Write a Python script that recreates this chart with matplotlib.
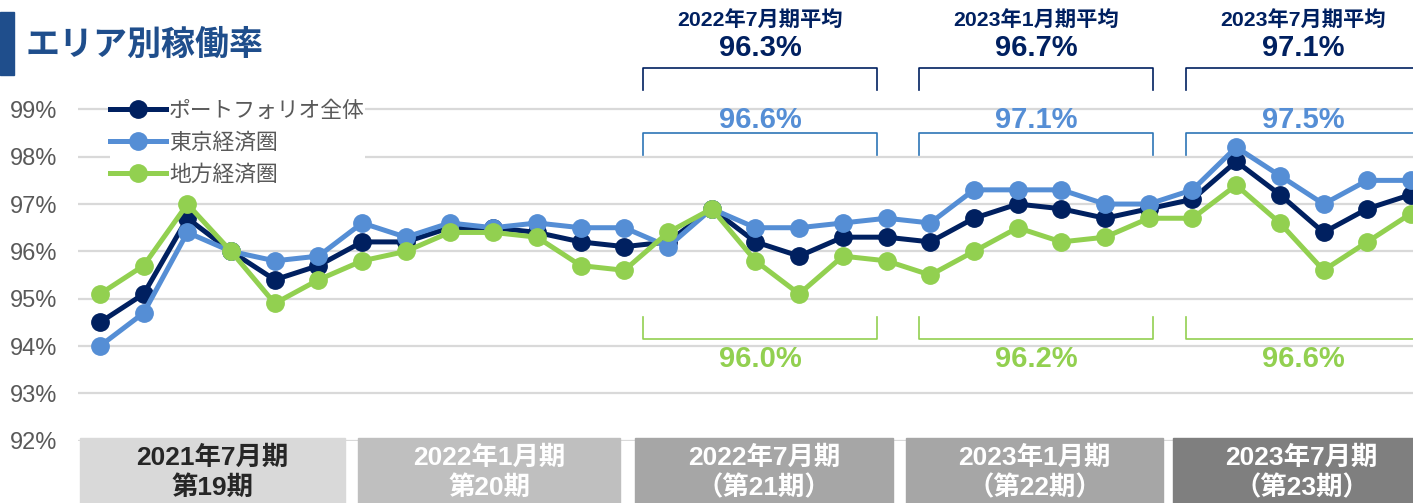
import matplotlib
matplotlib.use("Agg")
import matplotlib.pyplot as plt
from matplotlib.lines import Line2D
from matplotlib.patches import Rectangle

plt.rcParams['font.family'] = ['Liberation Sans', 'Noto Sans CJK JP', 'DejaVu Sans']

# ---------------- data ----------------
months = [f"{y}-{m:02d}" for y, m in
          [(2021, m) for m in range(1, 13)] + [(2022, m) for m in range(1, 13)] + [(2023, m) for m in range(1, 8)]]
series_names = ['ポートフォリオ全体', '東京経済圏', '地方経済圏']
total = [94.5, 95.1, 96.7, 96.0, 95.4, 95.7, 96.2, 96.2, 96.5, 96.5, 96.4, 96.2, 96.1, 96.2, 96.9, 96.2,
         95.9, 96.3, 96.3, 96.2, 96.7, 97.0, 96.9, 96.7, 96.9, 97.1, 97.9, 97.2, 96.4, 96.9, 97.2]
tokyo = [94.0, 94.7, 96.4, 96.0, 95.8, 95.9, 96.6, 96.3, 96.6, 96.5, 96.6, 96.5, 96.5, 96.1, 96.9, 96.5,
         96.5, 96.6, 96.7, 96.6, 97.3, 97.3, 97.3, 97.0, 97.0, 97.3, 98.2, 97.6, 97.0, 97.5, 97.5]
local = [95.1, 95.7, 97.0, 96.0, 94.9, 95.4, 95.8, 96.0, 96.4, 96.4, 96.3, 95.7, 95.6, 96.4, 96.9, 95.8,
         95.1, 95.9, 95.8, 95.5, 96.0, 96.5, 96.2, 96.3, 96.7, 96.7, 97.4, 96.6, 95.6, 96.2, 96.8]
yticks = [92, 93, 94, 95, 96, 97, 98, 99]

avg_titles = ['2022年7月期平均', '2023年1月期平均', '2023年7月期平均']
avg_total = [96.3, 96.7, 97.1]
avg_tokyo = [96.6, 97.1, 97.5]
avg_local = [96.0, 96.2, 96.6]

period_line1 = ['2021年7月期', '2022年1月期', '2022年7月期', '2023年1月期', '2023年7月期']
period_line2 = ['第19期', '第20期', '（第21期）', '（第22期）', '（第23期）']

# ---------------- style ----------------
NAVY = '#002060'
BLUE = '#558ED5'
GREEN = '#92D050'
GRAY_TXT = '#595959'
TITLE_C = '#1F4E8C'

W, H = 1413, 503
fig = plt.figure(figsize=(W / 100, H / 100), dpi=100)


def fx(x):
    return x / W


def fy(y):
    return 1 - y / H


# axes placement (pixels)
ax_left, ax_right = 78, 1413
y92, y_top = 440.7, 95.0
ax = fig.add_axes([fx(ax_left), fy(y92), (ax_right - ax_left) / W, (y92 - y_top) / H])
ax.set_ylim(92, 92 + (y92 - y_top) / 47.33)
ax.set_xlim(-0.503, 30.046)

x = list(range(len(months)))
ax.plot(x, total, color=NAVY, lw=3.6, marker='o', ms=12.5, zorder=3, label=series_names[0])
ax.plot(x, tokyo, color=BLUE, lw=3.6, marker='o', ms=12.5, zorder=4, label=series_names[1])
ax.plot(x, local, color=GREEN, lw=3.6, marker='o', ms=12.5, zorder=5, label=series_names[2])

ax.set_yticks(yticks)
ax.set_yticklabels([f"{v}%" for v in yticks], fontsize=17, color=GRAY_TXT)
ax.tick_params(axis='y', length=0, pad=15)
ax.set_xticks([])
ax.grid(axis='y', color='#D9D9D9', lw=1.6, zorder=0)
ax.set_axisbelow(True)
for s in ax.spines.values():
    s.set_visible(False)

leg = ax.legend(loc='upper left', bbox_to_anchor=(fx(110), fy(101)), bbox_transform=fig.transFigure,
                frameon=True, facecolor='white', edgecolor='none', framealpha=1,
                fontsize=15.7, labelcolor=GRAY_TXT, handlelength=2.55, handletextpad=0.15,
                labelspacing=0.5, borderpad=0.0, borderaxespad=0)
leg.set_zorder(6)

# ---------------- title ----------------
fig.patches.append(Rectangle((fx(0), fy(75)), fx(14), (75 - 12) / H, transform=fig.transFigure,
                             color=TITLE_C, zorder=2))
fig.text(fx(26), fy(44), 'エリア別稼働率', fontsize=24.5, fontweight='bold', color=TITLE_C,
         ha='left', va='center', family=['Noto Sans CJK JP'])

# ---------------- averages & brackets ----------------
br_x = [(643, 877), (919, 1153), (1186, 1425)]
lab_cx = [760, 1036, 1303]


def bracket(x0, x1, y_flat, y_end, color):
    fig.add_artist(Line2D([fx(x0), fx(x0), fx(x1), fx(x1)],
                          [fy(y_end), fy(y_flat), fy(y_flat), fy(y_end)],
                          transform=fig.transFigure, color=color, lw=1.2,
                          solid_joinstyle='round', zorder=7))


for i in range(3):
    x0, x1 = br_x[i]
    cx = lab_cx[i]
    fig.text(fx(cx), fy(20), avg_titles[i], fontsize=15.3, fontweight='bold', color=NAVY,
             ha='center', va='center')
    fig.text(fx(cx), fy(48), f"{avg_total[i]:.1f}%", fontsize=21, fontweight='bold', color=NAVY,
             ha='center', va='center')
    bracket(x0, x1, 68, 90, NAVY)
    fig.text(fx(cx), fy(120), f"{avg_tokyo[i]:.1f}%", fontsize=21, fontweight='bold', color=BLUE,
             ha='center', va='center', zorder=7)
    bracket(x0, x1, 133, 155, '#2E75B6')
    bracket(x0, x1, 339, 317, GREEN)
    fig.text(fx(cx), fy(359), f"{avg_local[i]:.1f}%", fontsize=21, fontweight='bold', color=GREEN,
             ha='center', va='center', zorder=7)

# ---------------- period boxes ----------------
box_x = [(80, 345), (358, 620), (635, 893), (906, 1163), (1173, 1430)]
box_fc = ['#D9D9D9', '#BFBFBF', '#A6A6A6', '#A6A6A6', '#7F7F7F']
box_tc = ['#262626', 'white', 'white', 'white', 'white']
for i in range(5):
    x0, x1 = box_x[i]
    fig.patches.append(Rectangle((fx(x0), 0), (x1 - x0) / W, 1 - 438 / H, transform=fig.transFigure,
                                 color=box_fc[i], zorder=8))
    cx = (x0 + x1) / 2
    fig.text(fx(cx), fy(458), period_line1[i], fontsize=19, fontweight='bold', color=box_tc[i],
             ha='center', va='center', zorder=9)
    fig.text(fx(cx), fy(488), period_line2[i], fontsize=19, fontweight='bold', color=box_tc[i],
             ha='center', va='center', zorder=9)

fig.savefig('out.png', dpi=100)
